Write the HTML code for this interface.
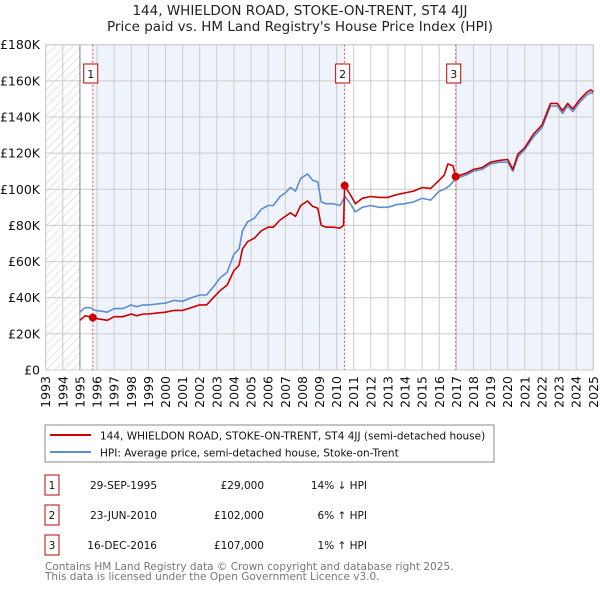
<!DOCTYPE html>
<html><head><meta charset="utf-8"><style>
body{margin:0;background:#fff;}
svg{display:block;font-family:"DejaVu Sans","Liberation Sans",sans-serif;}
</style></head><body>
<svg id="c" width="600" height="590" viewBox="0 0 600 590" xmlns="http://www.w3.org/2000/svg">
<defs><pattern id="hatch" width="6" height="6" patternUnits="userSpaceOnUse" patternTransform="rotate(45)"><line x1="0" y1="0" x2="0" y2="6" stroke="#ccc" stroke-width="1"/></pattern></defs>
<text x="300" y="15" text-anchor="middle" font-size="13.5" fill="#222">144, WHIELDON ROAD, STOKE-ON-TRENT, ST4 4JJ</text>
<text x="300" y="31" text-anchor="middle" font-size="13.5" fill="#222">Price paid vs. HM Land Registry's House Price Index (HPI)</text>
<g id="plot"></g>
<rect x="45" y="425" width="449" height="37" fill="#fff" stroke="#888"/>
<line x1="50" y1="435" x2="91" y2="435" stroke="#cc0000" stroke-width="2"/>
<text x="100" y="439.5" font-size="10.5" fill="#111">144, WHIELDON ROAD, STOKE-ON-TRENT, ST4 4JJ (semi-detached house)</text>
<line x1="50" y1="452" x2="91" y2="452" stroke="#5b8fd4" stroke-width="2"/>
<text x="100" y="456.5" font-size="10.5" fill="#111">HPI: Average price, semi-detached house, Stoke-on-Trent</text>
<g id="table" font-size="10.5" fill="#111"></g>
<text x="45" y="570" font-size="10.5" fill="#777">Contains HM Land Registry data © Crown copyright and database right 2025.</text>
<text x="45" y="580" font-size="10.5" fill="#777">This data is licensed under the Open Government Licence v3.0.</text>
</svg>
<script>
const hpiT=[1995.0,1995.3,1995.6,1995.9,1996.3,1996.6,1997.0,1997.5,1998.0,1998.3,1998.7,1999.0,1999.5,2000.0,2000.5,2001.0,2001.5,2002.0,2002.4,2002.8,2003.2,2003.6,2004.0,2004.3,2004.5,2004.8,2005.2,2005.6,2006.0,2006.3,2006.7,2007.0,2007.3,2007.6,2007.9,2008.3,2008.6,2008.9,2009.1,2009.4,2009.8,2010.2,2010.5,2010.8,2011.1,2011.5,2012.0,2012.5,2013.0,2013.5,2014.0,2014.5,2015.0,2015.5,2016.0,2016.3,2016.6,2016.96,2017.3,2017.6,2018.0,2018.5,2019.0,2019.5,2020.0,2020.3,2020.6,2021.0,2021.5,2022.0,2022.5,2022.9,2023.2,2023.5,2023.8,2024.2,2024.6,2024.85,2025.0];
const hpiV=[32,34.5,34.5,33,32.5,32,34,34,36,35,36,36,36.5,37,38.5,38,40,41.5,41.5,46,51,54,64,67,77,82,84,89,91,91,96,98,101,99,106,108.5,105,104,93,92,92,91,96,92,87.5,90,91,90,90,91.5,92,93,95,94,99,100,102,106,107,108,110,111,114,115,115,110,118,122,129,134,146,146,142,146,143,148,152,153.5,153];
const priceT=[1995.0,1995.3,1995.6,1995.75,1995.9,1996.3,1996.6,1997.0,1997.5,1998.0,1998.3,1998.7,1999.0,1999.5,2000.0,2000.5,2001.0,2001.5,2002.0,2002.4,2002.8,2003.2,2003.6,2004.0,2004.3,2004.5,2004.8,2005.2,2005.6,2006.0,2006.3,2006.7,2007.0,2007.3,2007.6,2007.9,2008.3,2008.6,2008.9,2009.1,2009.4,2009.8,2010.2,2010.4,2010.47,2010.8,2011.1,2011.5,2012.0,2012.5,2013.0,2013.5,2014.0,2014.5,2015.0,2015.5,2016.0,2016.3,2016.5,2016.8,2016.96,2017.3,2017.6,2018.0,2018.5,2019.0,2019.5,2020.0,2020.3,2020.6,2021.0,2021.5,2022.0,2022.5,2022.9,2023.2,2023.5,2023.8,2024.2,2024.6,2024.85,2025.0];
const priceV=[27.5,30,29.5,29,28.5,28,27.5,29.5,29.5,31,30,31,31,31.5,32,33,33,34.5,36,36,40,44,47,55,58,67,71,73,77,79,79,83,85,87,85,91,93.5,90.5,89.5,80,79,79,78.5,80,102,97,92,95,96,95.5,95.5,97,98,99,101,100.5,105,108,114,113,107,108,109,111,112,115,116,116.5,111,119.5,123,130.5,135.5,147.5,147.5,143.5,147.5,144.5,149.5,153.5,155,154];
const saleT=[1995.75,2010.47,2016.96];
const saleV=[29,102,107];
const saleLabels=["1","2","3"];
const saleDates=["29-SEP-1995","23-JUN-2010","16-DEC-2016"];
const salePrices=["£29,000","£102,000","£107,000"];
const saleDiff=["14% ↓ HPI","6% ↑ HPI","1% ↑ HPI"];
const yTicks=[0,20,40,60,80,100,120,140,160,180];
const xYears=[1993,1994,1995,1996,1997,1998,1999,2000,2001,2002,2003,2004,2005,2006,2007,2008,2009,2010,2011,2012,2013,2014,2015,2016,2017,2018,2019,2020,2021,2022,2023,2024,2025];

const X0=45.7,X1=593.3,Y0=370,Y1=44.7;
const xs=t=>X0+(t-1993)/(2025-1993)*(X1-X0);
const ys=v=>Y0-v/180*(Y0-Y1);
const NS="http://www.w3.org/2000/svg";
const plot=document.getElementById('plot');
function mk(tag,attrs,parent){const e=document.createElementNS(NS,tag);for(const k in attrs)e.setAttribute(k,attrs[k]);(parent||plot).appendChild(e);return e;}

let r=mk('rect',{x:X0,y:Y1,width:X1-X0,height:Y0-Y1,fill:'#fff'});


r=mk('rect',{x:xs(saleT[0]),y:Y1,width:xs(saleT[1])-xs(saleT[0]),height:Y0-Y1,fill:'#eef3fc'});


r=mk('rect',{x:xs(saleT[2]),y:Y1,width:X1-xs(saleT[2]),height:Y0-Y1,fill:'#eef3fc'});


r=mk('rect',{x:X0,y:Y1,width:xs(1995)-X0,height:Y0-Y1,fill:'url(#hatch)'});



yTicks.forEach(v=>{
 const l=mk('line',{x1:X0,x2:X1,y1:ys(v),y2:ys(v),stroke:'#ccc','stroke-width':1});
 
 
 const t=mk('text',{x:40,y:ys(v)+4.5,'text-anchor':'end','font-size':12.5,fill:'#111'});
 t.textContent=v===0?'£0':'£'+v+'K';
 
 
});
xYears.forEach(y=>{
 const l=mk('line',{x1:xs(y),x2:xs(y),y1:Y1,y2:Y0,stroke:'#ccc','stroke-width':1});
 
 
 const t=mk('text',{x:0,y:0,'font-size':12.5,fill:'#111','text-anchor':'end',transform:`translate(${xs(y)+4.5},${Y0+6}) rotate(-90)`});
 t.textContent=y;
 
 
});
let bl=mk('line',{x1:xs(1995),x2:xs(1995),y1:Y1,y2:Y0,stroke:'#888','stroke-width':1});


let fr=mk('rect',{x:X0,y:Y1,width:X1-X0,height:Y0-Y1,fill:'none',stroke:'#ccc'});



saleT.forEach((t,i)=>{
 const l=mk('line',{x1:xs(t),x2:xs(t),y1:Y1,y2:Y0,stroke:'#e05050','stroke-width':1,'stroke-dasharray':'2,2'});
 
 
 const b=mk('rect',{x:xs(t)-9,y:64,width:14,height:19,fill:'#fff',stroke:'#c00000'});
 
 
 const tx=mk('text',{x:xs(t)-2,y:78,'text-anchor':'middle','font-size':11,fill:'#111'});
 tx.textContent=saleLabels[i];
 
 
});

function line(T,V,color,name){
 const d=T.map((t,i)=>(i?'L':'M')+xs(t).toFixed(1)+','+ys(V[i]).toFixed(1)).join('');
 const p=mk('path',{d:d,fill:'none',stroke:color,'stroke-width':1.6,'stroke-linejoin':'round'});
 
 
}
line(hpiT,hpiV,'#5b8fd4','hpi-line');
line(priceT,priceV,'#cc0000','price-line');
saleT.forEach((t,i)=>{
 const c=mk('circle',{cx:xs(t),cy:ys(saleV[i]),r:4,fill:'#cc0000'});
 
 
});

const tb=document.getElementById('table');
saleT.forEach((t,i)=>{
 const y=485+i*30;
 const b=mk('rect',{x:45,y:y-10,width:14,height:20,fill:'#fff',stroke:'#c00000'},tb);
 
 
 const l=mk('text',{x:52,y:y+4,'text-anchor':'middle'},tb);l.textContent=saleLabels[i];
 
 
 const d=mk('text',{x:157,y:y+4,'text-anchor':'end'},tb);d.textContent=saleDates[i];
 
 
 const p=mk('text',{x:264,y:y+4,'text-anchor':'end'},tb);p.textContent=salePrices[i];
 
 
 const h=mk('text',{x:367,y:y+4,'text-anchor':'end'},tb);h.textContent=saleDiff[i];
 
 
});
</script>
</body></html>
